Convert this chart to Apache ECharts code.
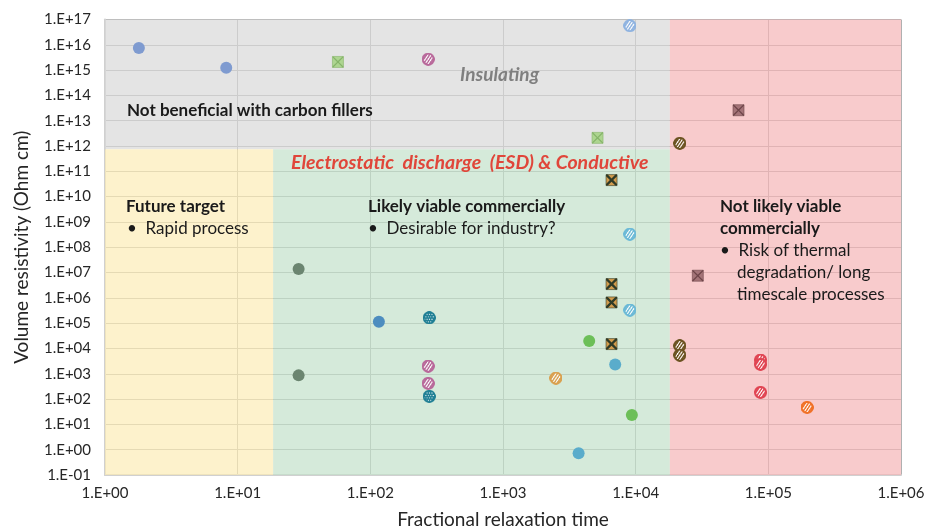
<!DOCTYPE html>
<html>
<head>
<meta charset="utf-8">
<script src="https://cdn.jsdelivr.net/npm/echarts@6/dist/echarts.min.js"></script>
<style>
  html, body { margin: 0; padding: 0; background: #fff; }
  #main { width: 926px; height: 529px; }
</style>
</head>
<body>
<div id="main"></div>
<script>
// background zones [xMin, yMin, xMax, yMax]
var zoneGray   = [1, 7.5e11, 1.81e4, 1e17];
var zoneYellow = [1, 0.1, 18.5, 7.5e11];
var zoneGreen  = [18.5, 0.1, 1.81e4, 7.5e11];
var zonePink   = [1.81e4, 0.1, 1e6, 1e17];

// solid circles
var solidPeriwinkle = [[1.8, 7.4e15], [8.2, 1.25e15]];
var solidSage = [[28.8, 1.37e7], [28.8, 865]];
var solidSteel = [[116, 1.13e5]];
var solidCyan = [[7010, 2350], [3715, 0.73]];
var solidGreen = [[4465, 1.96e4], [9360, 23.3]];

// squares with a cross
var crossGreen = [[57, 2.1e15], [5160, 2.1e12]];
var crossTan = [[6580, 4.5e10], [6580, 1.49e4], [6580, 3.5e6], [6580, 6.6e5]];
var crossMauve = [[59600, 2.6e13], [29400, 7.5e6]];

// hatched circles
var hatchPeriwinkle = [[9040, 5.7e16]];
var hatchSky = [[9040, 3.3e8], [9040, 3.3e5]];
var hatchPink = [[273, 2.7e15], [273, 2010], [273, 418]];
var hatchTan = [[2505, 676]];
var hatchBrown = [[21500, 1.28e12], [21500, 1.28e4], [21500, 5480]];
var hatchRed = [[87300, 3480], [87300, 2360], [87300, 184]];
var hatchOrange = [[196000, 47]];

// checkered circles
var checkTeal = [[278, 1.63e5], [278, 128]];

// draw a hatched / checkered circle marker as an image (3x for sharpness)
function markerImage(color, kind) {
  var k = 3, s = 13 * k;
  var c = document.createElement('canvas');
  c.width = s; c.height = s;
  var g = c.getContext('2d');
  var r = s / 2;
  g.save();
  g.beginPath();
  g.arc(r, r, r - 0.5, 0, Math.PI * 2);
  g.clip();
  if (kind === 'check') {
    g.fillStyle = color;
    g.fillRect(0, 0, s, s);
    g.fillStyle = 'rgba(255,255,255,0.9)';
    for (var y = 0; y < s; y += 2.5 * k) {
      for (var x = 0; x < s; x += 2.5 * k) {
        g.fillRect(x + ((y / (2.5 * k)) % 2 ? 1.25 * k : 0), y, 1.1 * k, 1.1 * k);
      }
    }
  } else {
    g.fillStyle = 'rgba(255,255,255,0.9)';
    g.fillRect(0, 0, s, s);
    g.strokeStyle = color;
    g.lineWidth = 1.4 * k;
    g.beginPath();
    for (var d = -s; d < 2 * s; d += 3 * k) {
      g.moveTo(d - s, s + s);
      g.lineTo(d + s, -s + s - s);
    }
    g.stroke();
  }
  g.restore();
  g.beginPath();
  g.arc(r, r, r - (kind === 'check' ? 0.8 : 1) * k, 0, Math.PI * 2);
  g.strokeStyle = color;
  g.lineWidth = (kind === 'check' ? 1.6 : 2) * k;
  g.stroke();
  return 'image://' + c.toDataURL();
}

var xBold = 'path://M0,0L3,0L10,7L17,0L20,0L20,3L13,10L20,17L20,20L17,20L10,13L3,20L0,20L0,17L7,10L0,3Z';
var xThin = 'path://M0,0L1.6,0L10,8.4L18.4,0L20,0L20,1.6L11.6,10L20,18.4L20,20L18.4,20L10,11.6L1.6,20L0,20L0,18.4L8.4,10L0,1.6Z';

function solid(name, data, color) {
  return { name: name, type: 'scatter', data: data, symbol: 'circle', symbolSize: 12,
    itemStyle: { color: color, opacity: 1 }, z: 5 };
}
function hatch(name, data, color, kind) {
  return { name: name, type: 'scatter', data: data, symbol: markerImage(color, kind), symbolSize: 13,
    itemStyle: { color: color, opacity: 1 }, z: 5 };
}
function crossed(name, data, fill, line, xShape) {
  return [
    { name: name, type: 'scatter', data: data, symbol: 'rect', symbolSize: 11,
      itemStyle: { color: fill, opacity: 1, borderColor: line, borderWidth: 0.6 }, z: 5 },
    { name: name + ' x', type: 'scatter', data: data, symbol: xShape, symbolSize: 11,
      itemStyle: { color: line, opacity: 1 }, z: 6, silent: true }
  ];
}

function zone(z, color) {
  return [{ coord: [z[0], z[1]], itemStyle: { color: color } }, { coord: [z[2], z[3]] }];
}

var font = 'Lato, "Open Sans", sans-serif';

function expLabel(v) {
  var e = Math.round(Math.log10(v));
  var a = Math.abs(e);
  return '1.E' + (e < 0 ? '-' : '+') + (a < 10 ? '0' + a : a);
}

var series = [
  {
    name: 'zones', type: 'scatter', data: [], z: 1,
    markArea: {
      silent: true,
      label: { show: false },
      data: [
        zone(zoneGray, 'rgba(216,216,216,0.7)'),
        zone(zoneYellow, 'rgba(252,236,182,0.7)'),
        zone(zoneGreen, 'rgba(195,225,202,0.7)'),
        zone(zonePink, 'rgba(245,181,182,0.7)')
      ]
    }
  },
  solid('A', solidPeriwinkle, '#7f9bd0'),
  solid('B', solidSage, '#6b8570'),
  solid('C', solidSteel, '#4d8dbf'),
  solid('D', solidCyan, '#5aaccb'),
  solid('E', solidGreen, '#6cbf58'),
  hatch('F', hatchPeriwinkle, '#8fb3e0'),
  hatch('G', hatchSky, '#6bb9d6'),
  hatch('H', hatchPink, '#b8689a'),
  hatch('I', hatchTan, '#d9a04e'),
  hatch('J', hatchBrown, '#6b5220'),
  hatch('K', hatchRed, '#e04452'),
  hatch('L', hatchOrange, '#f07026'),
  hatch('M', checkTeal, '#1f7f94', 'check')
].concat(
  crossed('N', crossGreen, '#add590', '#86b46a', xThin),
  crossed('O', crossTan, '#d29c4e', '#2f3a26', xBold),
  crossed('P', crossMauve, '#a47478', '#6d4448', xThin)
);

function txt(left, top, text, style) {
  return { type: 'text', left: left, top: top, z: 100,
    style: Object.assign({ text: text, font: '17px ' + font, fill: '#1a1a1a' }, style || {}) };
}

var bold = 'bold 17px ' + font;

var option = {
  backgroundColor: '#fff',
  animation: false,
  grid: { left: 105, right: 25, top: 19.5, bottom: 54, containLabel: false, outerBoundsMode: 'none' },
  xAxis: {
    type: 'log', logBase: 10, min: 1, max: 1e6, interval: 1,
    name: 'Fractional relaxation time', nameLocation: 'middle', nameGap: 35,
    nameTextStyle: { fontFamily: font, fontSize: 19, color: '#262626' },
    axisLine: { show: true, lineStyle: { color: '#d0d0d0', width: 2 } },
    axisTick: { show: false },
    axisLabel: { formatter: expLabel, fontFamily: font, fontSize: 15, color: '#262626', margin: 11 },
    splitLine: { show: true, lineStyle: { color: '#b0b0b0', width: 1 } }
  },
  yAxis: {
    type: 'log', logBase: 10, min: 0.1, max: 1e17, interval: 1,
    name: 'Volume resistivity (Ohm cm)', nameLocation: 'middle', nameGap: 74,
    nameTextStyle: { fontFamily: font, fontSize: 19, color: '#262626' },
    axisLine: { show: true, lineStyle: { color: '#d0d0d0', width: 2 } },
    axisTick: { show: false },
    axisLabel: { formatter: expLabel, fontFamily: font, fontSize: 15, color: '#262626', margin: 14 },
    splitLine: { show: true, lineStyle: { color: '#b0b0b0', width: 1 } }
  },
  graphic: [
    txt(460, 65, 'Insulating', { font: 'italic bold 19px ' + font, fill: '#7f7f7f' }),
    txt(127, 102, 'Not beneficial with carbon fillers', { font: bold }),
    txt(291, 153, 'Electrostatic  discharge  (ESD) & Conductive', { font: 'italic bold 19.5px ' + font, fill: '#e0463a' }),
    txt(126, 198, 'Future target', { font: bold }),
    txt(127, 220, '\u2022  Rapid process'),
    txt(368, 198, 'Likely viable commercially', { font: bold }),
    txt(368, 220, '\u2022  Desirable for industry?'),
    txt(720, 198, 'Not likely viable', { font: bold }),
    txt(720, 220, 'commercially', { font: bold }),
    txt(720, 242, '\u2022  Risk of thermal'),
    txt(737, 264, 'degradation/ long'),
    txt(737, 286, 'timescale processes')
  ],
  series: series
};

var myChart = echarts.init(document.getElementById('main'));
myChart.setOption(option);
</script>
</body>
</html>
